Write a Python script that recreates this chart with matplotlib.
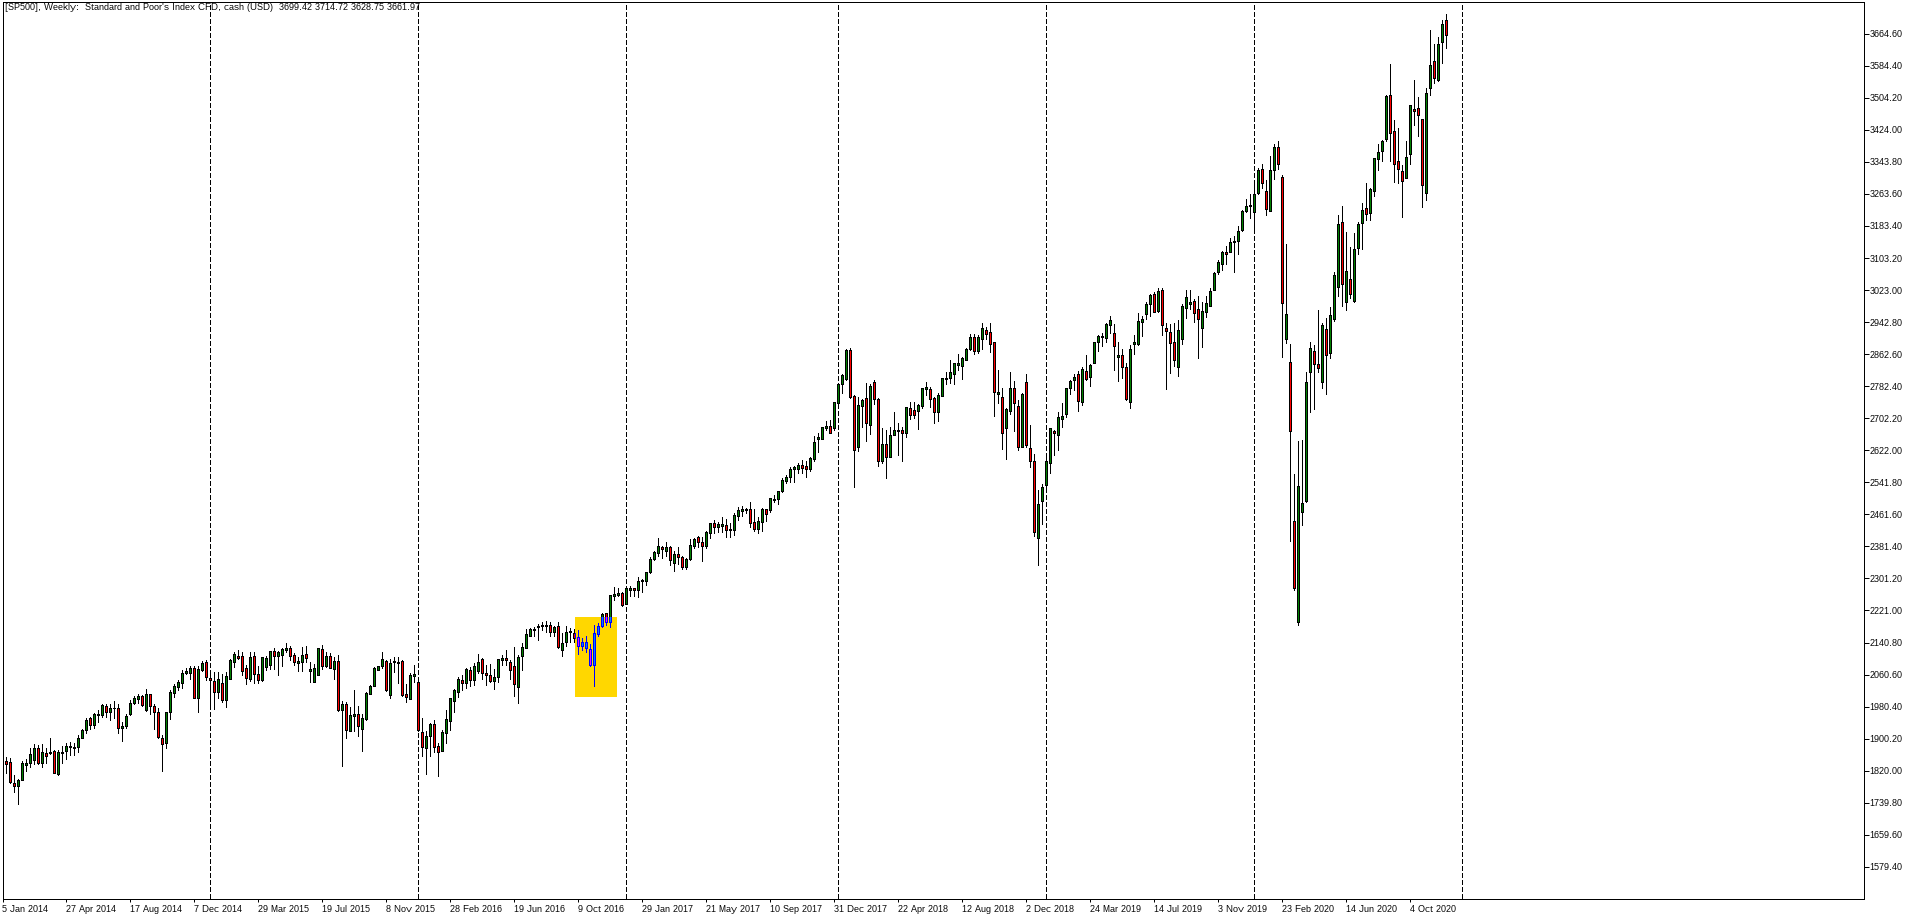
import matplotlib
matplotlib.use('Agg')
import matplotlib.pyplot as plt
from matplotlib.patches import Rectangle
import numpy as np

plt.rcParams['font.family'] = ['Liberation Sans', 'DejaVu Sans']
plt.rcParams['text.hinting'] = 'native'
plt.rcParams['text.hinting_factor'] = 1

title = "[SP500], Weekly:  Standard and Poor's Index CFD, cash (USD)  3699.42 3714.72 3628.75 3661.97"

# weekly prices, one bar per week from 5 Jan 2014
opens = [
    1843,1843,1841,1788,1782,1797,1835,1838,1847,1876,
    1840,1863,1863,1868,1812,1863,1868,1880,1878,1880,
    1901,1923,1951,1935,1960,1960,1983,1968,1976,1978,
    1926,1933,1963,1990,2000,2007,1971,2011,1983,1966,
    1901,1890,1968,2015,2029,2039,2065,2065,2076,2001,
    2073,2091,2051,2044,2018,2040,1996,2050,2093,2108,
    2106,2076,2050,2106,2061,2047,2080,2084,2119,2108,
    2110,2123,2126,2109,2090,2093,2111,2070,2043,2060,
    2124,2083,2106,2075,2094,1973,1988,1920,1958,1961,
    1925,1950,2013,2033,2073,2081,2094,2009,2091,2090,
    2094,2011,2000,2058,2043,1918,1878,1908,1936,1883,
    1870,1915,1945,1995,2018,2046,2040,2071,2048,2070,
    2099,2065,2059,2045,2055,2098,2101,2091,2081,2030,
    2108,2126,2158,2173,2179,2181,2182,2184,2166,2181,
    2123,2141,2166,2164,2154,2133,2126,2124,2085,2163,
    2182,2214,2191,2258,2260,2264,2238,2273,2276,2271,
    2294,2296,2317,2349,2366,2381,2371,2379,2341,2362,
    2356,2331,2349,2383,2404,2392,2383,2416,2439,2431,
    2433,2434,2423,2423,2458,2471,2473,2474,2442,2426,
    2443,2474,2473,2498,2501,2519,2545,2554,2574,2575,
    2584,2583,2576,2601,2650,2651,2678,2682,2678,2741,
    2788,2800,2873,2757,2629,2734,2752,2684,2792,2750,
    2596,2637,2606,2659,2671,2672,2664,2727,2722,2721,
    2733,2776,2775,2753,2719,2759,2800,2804,2814,2836,
    2834,2849,2875,2905,2870,2901,2922,2917,2892,2764,
    2755,2677,2721,2777,2732,2631,2792,2627,2594,2403,
    2496,2536,2589,2670,2661,2701,2712,2778,2799,2812,
    2744,2820,2806,2841,2892,2906,2904,2936,2915,2856,
    2860,2830,2742,2889,2889,2942,2964,2987,3012,2971,
    3022,2929,2919,2892,2830,2901,2979,2987,2995,2975,
    2929,2967,2984,3024,3067,3088,3117,3119,3144,3145,
    3174,3221,3234,3219,3265,3325,3270,3222,3323,3380,
    3305,2901,2842,2445,2191,2468,2496,2819,2870,2837,
    2794,2925,2865,2951,3030,3193,2993,3050,2996,3129,
    3192,3228,3217,3272,3352,3372,3400,3510,3420,3345,
    3320,3304,3364,3475,3478,3450,3267,3528,3596,3549,3643,3699.42,
]
closes = [
    1833,1837,1792,1782,1796,1838,1838,1861,1878,1840,
    1866,1857,1866,1815,1866,1866,1882,1882,1879,1901,
    1923,1948,1935,1963,1962,1984,1968,1978,1978,1926,
    1931,1956,1989,2003,2008,1985,2011,1983,1968,1905,
    1886,1966,2016,2031,2041,2064,2069,2076,2003,2074,
    2089,2055,2046,2018,2050,1996,2056,2096,2111,2102,
    2070,2052,2105,2061,2047,2104,2101,2119,2108,2117,
    2124,2126,2108,2093,2094,2109,2103,2074,2076,2126,
    2081,2107,2078,2094,1973,1988,1921,1960,1963,1933,
    1951,2015,2033,2076,2081,2099,2022,2089,2094,2092,
    2009,2005,2059,2062,1921,1880,1908,1938,1880,1866,
    1918,1949,2001,2021,2049,2040,2074,2048,2081,2091,
    2065,2059,2045,2054,2099,2101,2096,2071,2036,2104,
    2129,2161,2174,2175,2182,2185,2185,2168,2179,2129,
    2139,2166,2170,2153,2133,2141,2141,2085,2164,2181,
    2213,2193,2259,2261,2264,2234,2276,2276,2272,2294,
    2297,2317,2349,2367,2382,2374,2379,2347,2362,2356,
    2331,2349,2384,2401,2392,2383,2417,2439,2431,2437,
    2437,2423,2425,2459,2472,2474,2474,2441,2426,2444,
    2474,2463,2502,2500,2519,2547,2554,2575,2580,2584,
    2578,2576,2603,2642,2654,2679,2682,2666,2742,2787,
    2810,2873,2755,2622,2735,2747,2689,2783,2751,2596,
    2637,2606,2659,2672,2673,2664,2730,2711,2710,2735,
    2778,2780,2751,2719,2760,2803,2802,2817,2840,2840,
    2853,2875,2905,2871,2905,2927,2914,2889,2769,2767,
    2664,2725,2777,2740,2629,2763,2634,2596,2418,2487,
    2529,2594,2677,2664,2704,2709,2777,2795,2805,2746,
    2825,2801,2835,2892,2907,2907,2937,2947,2884,2860,
    2830,2751,2875,2892,2945,2950,2987,3010,2967,3020,
    2935,2921,2890,2849,2922,2983,3006,2992,2965,2950,
    2971,2990,3020,3066,3093,3118,3112,3143,3146,3170,
    3221,3233,3236,3263,3323,3290,3227,3323,3380,3338,
    2990,2962,2669,2276,2532,2489,2792,2877,2837,2827,
    2935,2860,2960,3060,3189,3038,3070,3013,3125,3189,
    3223,3213,3275,3353,3368,3395,3508,3415,3338,3325,
    3295,3355,3485,3470,3460,3285,3515,3586,3553,3638,3688,3661.97,
]
highs = [
    1847,1853,1852,1809,1798,1844,1848,1876,1888,1884,
    1886,1878,1901,1873,1872,1882,1890,1893,1890,1909,
    1924,1953,1955,1965,1973,1986,1987,1986,1994,1987,
    1943,1963,1997,2007,2013,2009,2024,2011,1987,1978,
    1909,1967,2023,2038,2048,2072,2076,2082,2083,2082,
    2094,2097,2068,2068,2068,2062,2068,2099,2118,2122,
    2118,2084,2118,2118,2082,2105,2107,2120,2126,2120,
    2126,2139,2132,2114,2105,2130,2132,2091,2087,2128,
    2134,2118,2114,2105,2109,1995,1992,1980,2022,1982,
    1962,2018,2034,2080,2083,2116,2097,2100,2105,2104,
    2096,2038,2064,2084,2044,1953,1920,1940,1948,1890,
    1922,1972,2002,2025,2055,2060,2076,2080,2089,2111,
    2101,2085,2086,2074,2100,2109,2121,2097,2129,2110,
    2139,2174,2176,2179,2187,2191,2195,2193,2182,2191,
    2164,2182,2176,2174,2172,2152,2157,2137,2185,2189,
    2214,2214,2260,2279,2276,2266,2276,2282,2276,2304,
    2299,2318,2354,2369,2402,2383,2392,2383,2371,2379,
    2358,2352,2399,2403,2408,2406,2420,2441,2448,2443,
    2454,2449,2439,2464,2479,2483,2478,2492,2475,2454,
    2478,2474,2502,2510,2521,2552,2560,2579,2583,2589,
    2598,2594,2604,2658,2664,2679,2695,2698,2743,2787,
    2813,2875,2877,2761,2756,2750,2790,2787,2798,2752,
    2677,2673,2679,2717,2689,2679,2731,2742,2744,2738,
    2779,2793,2781,2756,2765,2804,2818,2848,2840,2863,
    2856,2877,2913,2913,2911,2940,2930,2940,2894,2823,
    2777,2727,2818,2795,2748,2765,2813,2685,2612,2523,
    2538,2602,2677,2673,2717,2740,2777,2798,2812,2821,
    2830,2861,2838,2894,2911,2915,2940,2958,2938,2893,
    2876,2841,2886,2911,2965,2957,2992,3012,3017,3028,
    3027,2941,2938,2940,2947,2987,3023,3023,3000,3008,
    2993,3008,3027,3068,3098,3121,3133,3154,3158,3183,
    3223,3250,3263,3293,3328,3339,3299,3359,3388,3396,
    3311,3139,2888,2563,2645,2648,2817,2892,2885,2973,
    2940,2952,2980,3068,3211,3234,3169,3132,3166,3193,
    3240,3291,3278,3353,3388,3399,3510,3588,3449,3428,
    3336,3396,3487,3549,3505,3450,3528,3674,3639,3657,3699,3714.72,
]
lows = [
    1830,1815,1790,1767,1737,1796,1820,1830,1837,1837,
    1830,1840,1862,1813,1810,1840,1850,1860,1859,1867,
    1901,1915,1925,1926,1943,1955,1955,1948,1953,1915,
    1895,1926,1960,1988,1990,1982,1969,1963,1925,1903,
    1819,1878,1950,2005,2023,2026,2062,2049,2003,1968,
    2070,2047,1988,1975,2001,1993,1980,2049,2080,2099,
    2060,2037,2045,2040,2040,2045,2072,2074,2074,2059,
    2082,2118,2097,2084,2070,2070,2093,2043,2042,2059,
    2075,2080,2076,2050,1970,1832,1903,1920,1920,1908,
    1869,1948,2011,2032,2071,2076,2020,2001,2068,2040,
    2007,1993,2000,2043,1919,1857,1812,1857,1866,1807,
    1870,1890,1922,1968,2005,2022,2028,2033,2035,2065,
    2050,2035,2043,2025,2042,2085,2085,2050,2007,1990,
    2072,2126,2157,2157,2147,2171,2168,2157,2156,2128,
    2108,2132,2141,2142,2112,2122,2116,2082,2032,2156,
    2179,2185,2180,2247,2256,2232,2237,2256,2257,2255,
    2266,2285,2316,2348,2358,2353,2358,2335,2321,2338,
    2325,2325,2348,2378,2381,2346,2378,2403,2416,2418,
    2418,2406,2406,2411,2448,2458,2464,2429,2420,2416,
    2420,2445,2468,2493,2487,2518,2541,2542,2543,2564,
    2564,2554,2569,2596,2618,2649,2673,2665,2673,2731,
    2765,2798,2753,2531,2621,2681,2646,2663,2739,2583,
    2591,2553,2606,2659,2610,2594,2654,2700,2702,2675,
    2729,2760,2731,2691,2696,2759,2787,2791,2788,2823,
    2800,2848,2873,2863,2865,2875,2900,2868,2708,2740,
    2625,2600,2713,2669,2623,2629,2629,2581,2408,2335,
    2438,2523,2566,2610,2623,2681,2706,2763,2773,2720,
    2736,2798,2783,2841,2871,2883,2894,2915,2823,2796,
    2804,2748,2729,2863,2886,2908,2951,2957,2967,2968,
    2911,2776,2816,2833,2809,2889,2954,2976,2944,2854,
    2881,2955,2982,3022,3063,3073,3087,3117,3069,3114,
    3172,3218,3203,3179,3264,3279,3211,3222,3301,3326,
    2855,2891,2396,2271,2185,2435,2493,2719,2726,2819,
    2779,2763,2854,2945,3009,2982,2973,3003,2994,3113,
    3127,3199,3199,3259,3324,3346,3395,3347,3294,3290,
    3207,3303,3339,3436,3409,3232,3249,3510,3542,3547,3592,3628.75,
]

price_ticks = [1579.40, 1659.60, 1739.80, 1820.00, 1900.20, 1980.40, 2060.60, 2140.80, 2221.00,
               2301.20, 2381.40, 2461.60, 2541.80, 2622.00, 2702.20, 2782.40, 2862.60, 2942.80,
               3023.00, 3103.20, 3183.40, 3263.60, 3343.80, 3424.00, 3504.20, 3584.40, 3664.60]
date_labels = ['5 Jan 2014', '27 Apr 2014', '17 Aug 2014', '7 Dec 2014', '29 Mar 2015', '19 Jul 2015',
               '8 Nov 2015', '28 Feb 2016', '19 Jun 2016', '9 Oct 2016', '29 Jan 2017', '21 May 2017',
               '10 Sep 2017', '31 Dec 2017', '22 Apr 2018', '12 Aug 2018', '2 Dec 2018', '24 Mar 2019',
               '14 Jul 2019', '3 Nov 2019', '23 Feb 2020', '14 Jun 2020', '4 Oct 2020']
date_step = 16
year_bars = [52, 104, 156, 209, 261, 313, 365]

# highlighted box on the chart, in bars and price
box_bars = (143.2, 153.7)
box_prices = (2005, 2205)

GREEN = '#008000'
RED = '#ff0000'
BOX = '#ffd700'
BLUE = '#0000ff'
SKY = '#0080ff'
PINK = '#ff00ff'
PX = 0.72  # one pixel at dpi 100

W, H = 1916, 919
fig = plt.figure(figsize=(W / 100, H / 100), dpi=100)
left, right, top, bottom = 2.5, 1863.5, 2.5, 898.5
ax = fig.add_axes([left / W, 1 - bottom / H, (right - left) / W, (bottom - top) / H])
ax.set_xlim(0.025, 0.025 + (right - left) / 4)
ax.set_ylim(3749 - 2.503 * bottom, 3749 - 2.503 * top)

x = np.arange(len(opens))
o = np.array(opens)
c = np.array(closes)
up = c >= o
body_low = np.minimum(o, c)
body_h = np.abs(c - o)

rect = Rectangle((box_bars[0], box_prices[0]), box_bars[1] - box_bars[0], box_prices[1] - box_prices[0],
                 facecolor=BOX, edgecolor='none', zorder=1)
ax.add_patch(rect)

ax.vlines(year_bars, *ax.get_ylim(), colors='k', linewidth=PX, linestyles=(0, (4.2, 2.8)),
          antialiased=False, zorder=2)

ax.vlines(x, lows, highs, colors='k', linewidth=PX, antialiased=False, zorder=3)
ax.bar(x, body_h, bottom=body_low, width=0.5, color=[GREEN if u else RED for u in up],
       edgecolor='k', linewidth=PX, antialiased=False, zorder=4)

# bars inside the box change colour, same bars clipped to it
wicks = ax.vlines(x, lows, highs, colors=BLUE, linewidth=PX, antialiased=False, zorder=5)
wicks.set_clip_path(rect)
bodies = ax.bar(x, body_h, bottom=body_low, width=0.5, color=[SKY if u else PINK for u in up],
                edgecolor=BLUE, linewidth=PX, antialiased=False, zorder=6)
for b in bodies:
    b.set_clip_path(rect)

for s in ax.spines.values():
    s.set_linewidth(PX)

ax.yaxis.tick_right()
ax.set_yticks(price_ticks)
ax.set_yticklabels(['%.2f' % p for p in price_ticks])
ax.tick_params(axis='y', length=3.6, width=PX, pad=0.6, labelsize=6.7)

date_pos = np.arange(len(date_labels)) * date_step
ax.set_xticks(date_pos)
ax.set_xticklabels(date_labels, ha='left')
ax.tick_params(axis='x', length=2.2, width=PX, pad=2.5, labelsize=6.7)

fig.text(5 / W, 1 - 8 / H, title, fontsize=6.8, va='center', ha='left')

fig.savefig('out.png', dpi=100, facecolor='white')
